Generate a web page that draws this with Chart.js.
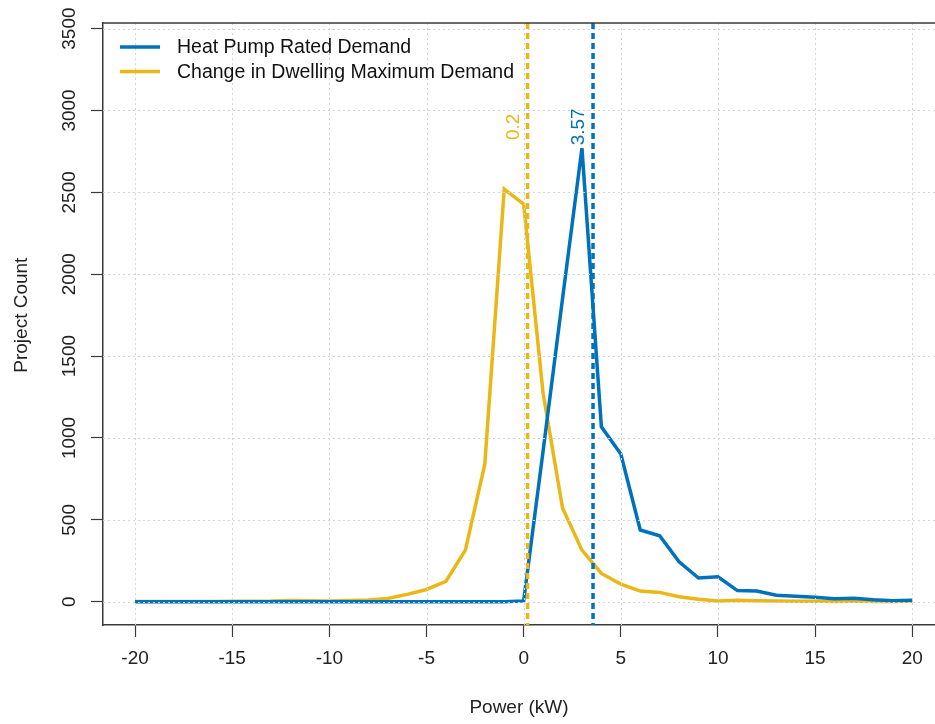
<!DOCTYPE html>
<html>
<head>
<meta charset="utf-8">
<script src="https://cdn.jsdelivr.net/npm/chart.js@4"></script>
<style>
    body { margin: 0; background: #ffffff; }
    #wrap { width: 935px; height: 724px; }
</style>
</head>
<body>
<div id="wrap"><canvas id="demandChart" width="935" height="724"></canvas></div>
<script>
// Power bins (kW)
const powerBins = [-20, -19, -18, -17, -16, -15, -14, -13, -12, -11, -10, -9, -8, -7, -6, -5, -4, -3, -2, -1,
    0, 1, 2, 3, 4, 5, 6, 7, 8, 9, 10, 11, 12, 13, 14, 15, 16, 17, 18, 19, 20];

// Heat Pump Rated Demand (project count)
const heatPumpCounts = [0, 0, 0, 0, 0, 0, 0, 0, 0, 0, 0, 0, 0, 0, 0, 0, 0, 0, 0, 0,
    5, 920, 1850, 2770, 1068, 902, 438, 403, 244, 145, 152, 68, 65, 40, 34, 28, 18, 22, 12, 6, 9];

// Change in Dwelling Maximum Demand (project count)
const dwellingCounts = [2, 1, 1, 1, 2, 3, 3, 4, 8, 6, 5, 7, 11, 20, 45, 75, 125, 315, 840, 2520,
    2428, 1273, 572, 315, 173, 108, 65, 57, 31, 15, 5, 9, 6, 4, 3, 3, 2, 3, 2, 2, 3];

// Medians marked with dashed lines
const dwellingMedian = 0.2;
const heatPumpMedian = 3.57;
const medianLabelLevel = 2900;

const xTicks = [-20, -15, -10, -5, 0, 5, 10, 15, 20];
const yTicks = [0, 500, 1000, 1500, 2000, 2500, 3000, 3500];

const BLUE = '#0072BD';
const YELLOW = '#EBB716';
const AXIS = '#3a3a3a';
const FONT = "'Liberation Sans', Arial, Helvetica, sans-serif";

function toPoints(values) {
    return powerBins.map((x, i) => ({ x: x, y: values[i] }));
}

// grid above the data, then median lines, labels and legend
const overlayPlugin = {
    id: 'overlay',
    afterDatasetsDraw(chart) {
        const ctx = chart.ctx;
        const area = chart.chartArea;
        const xs = chart.scales.x;
        const ys = chart.scales.y;

        ctx.save();
        ctx.strokeStyle = '#d4d4d4';
        ctx.lineWidth = 1;
        ctx.setLineDash([2, 3]);
        xTicks.forEach(v => {
            const px = Math.round(xs.getPixelForValue(v)) + 0.5;
            ctx.beginPath();
            ctx.moveTo(px, area.top);
            ctx.lineTo(px, area.bottom);
            ctx.stroke();
        });
        yTicks.forEach(v => {
            const py = Math.round(ys.getPixelForValue(v)) + 0.5;
            ctx.beginPath();
            ctx.moveTo(area.left, py);
            ctx.lineTo(area.right, py);
            ctx.stroke();
        });

        // median lines
        ctx.lineWidth = 3.5;
        ctx.setLineDash([6, 4]);
        [[dwellingMedian, YELLOW], [heatPumpMedian, BLUE]].forEach(([v, color]) => {
            const px = xs.getPixelForValue(v);
            ctx.strokeStyle = color;
            ctx.beginPath();
            ctx.moveTo(px, area.top);
            ctx.lineTo(px, area.bottom);
            ctx.stroke();
        });
        ctx.setLineDash([]);

        // median labels, rotated
        ctx.font = '19px ' + FONT;
        ctx.textAlign = 'center';
        ctx.textBaseline = 'middle';
        [[dwellingMedian, YELLOW], [heatPumpMedian, BLUE]].forEach(([v, color]) => {
            ctx.save();
            ctx.translate(xs.getPixelForValue(v) - 14, ys.getPixelForValue(medianLabelLevel));
            ctx.rotate(-Math.PI / 2);
            ctx.fillStyle = color;
            ctx.fillText(String(v), 0, 0);
            ctx.restore();
        });

        // top border of the box
        ctx.strokeStyle = AXIS;
        ctx.lineWidth = 1.5;
        ctx.beginPath();
        ctx.moveTo(area.left, area.top);
        ctx.lineTo(area.right, area.top);
        ctx.stroke();

        // legend
        const items = [
            { label: 'Heat Pump Rated Demand', color: BLUE },
            { label: 'Change in Dwelling Maximum Demand', color: YELLOW }
        ];
        ctx.font = '19.5px ' + FONT;
        ctx.textAlign = 'left';
        ctx.textBaseline = 'middle';
        items.forEach((item, i) => {
            const ly = area.top + 24 + i * 24.5;
            ctx.strokeStyle = item.color;
            ctx.lineWidth = 3.5;
            ctx.beginPath();
            ctx.moveTo(area.left + 17, ly);
            ctx.lineTo(area.left + 57, ly);
            ctx.stroke();
            ctx.fillStyle = '#111111';
            ctx.fillText(item.label, area.left + 74, ly + 1);
        });
        ctx.restore();
    },
    afterDraw(chart) {
        const ctx = chart.ctx;
        const ys = chart.scales.y;
        ctx.save();
        ctx.fillStyle = '#222222';
        ctx.font = '19px ' + FONT;
        ctx.textAlign = 'center';
        ctx.textBaseline = 'middle';
        // rotated y tick labels
        yTicks.forEach(v => {
            ctx.save();
            ctx.translate(70, ys.getPixelForValue(v));
            ctx.rotate(-Math.PI / 2);
            ctx.fillText(String(v), 0, 0);
            ctx.restore();
        });
        // y axis title
        ctx.save();
        ctx.translate(22, (ys.getPixelForValue(0) + ys.getPixelForValue(3500)) / 2);
        ctx.rotate(-Math.PI / 2);
        ctx.fillText('Project Count', 0, 0);
        ctx.restore();
        ctx.restore();
    }
};

document.addEventListener("DOMContentLoaded", () => {
    const ctx = document.getElementById("demandChart").getContext("2d");
    new Chart(ctx, {
        type: 'line',
        data: {
            datasets: [
                {
                    label: 'Heat Pump Rated Demand',
                    data: toPoints(heatPumpCounts),
                    borderColor: BLUE,
                    backgroundColor: BLUE,
                    borderWidth: 3.5,
                    pointRadius: 0,
                    tension: 0,
                    fill: false
                },
                {
                    label: 'Change in Dwelling Maximum Demand',
                    data: toPoints(dwellingCounts),
                    borderColor: YELLOW,
                    backgroundColor: YELLOW,
                    borderWidth: 3.5,
                    pointRadius: 0,
                    tension: 0,
                    fill: false
                }
            ]
        },
        options: {
            responsive: false,
            devicePixelRatio: 1,
            animation: false,
            layout: { padding: { top: 23, right: 0, bottom: 0, left: 0 } },
            plugins: {
                legend: { display: false },
                tooltip: { enabled: false }
            },
            scales: {
                x: {
                    type: 'linear',
                    min: -21.65,
                    max: 21.17,
                    afterBuildTicks: scale => { scale.ticks = xTicks.map(v => ({ value: v })); },
                    afterFit: scale => { scale.height = 99; },
                    grid: {
                        display: true,
                        drawOnChartArea: false,
                        drawTicks: true,
                        tickLength: 12,
                        color: AXIS,
                        tickColor: AXIS,
                        tickWidth: 1.2
                    },
                    border: { display: true, color: AXIS, width: 1.5 },
                    ticks: {
                        color: '#222222',
                        font: { family: FONT, size: 19 },
                        padding: 10,
                        maxRotation: 0,
                        autoSkip: false
                    },
                    title: {
                        display: true,
                        text: 'Power (kW)',
                        color: '#222222',
                        font: { family: FONT, size: 19 },
                        padding: { top: 4, bottom: 5 }
                    }
                },
                y: {
                    type: 'linear',
                    min: -142,
                    max: 3534,
                    afterBuildTicks: scale => { scale.ticks = yTicks.map(v => ({ value: v })); },
                    afterFit: scale => { scale.width = 103; },
                    grid: {
                        display: true,
                        drawOnChartArea: false,
                        drawTicks: true,
                        tickLength: 12,
                        color: AXIS,
                        tickColor: AXIS,
                        tickWidth: 1.2
                    },
                    border: { display: true, color: AXIS, width: 1.5 },
                    ticks: { display: false }
                }
            }
        },
        plugins: [overlayPlugin]
    });
});
</script>
</body>
</html>
